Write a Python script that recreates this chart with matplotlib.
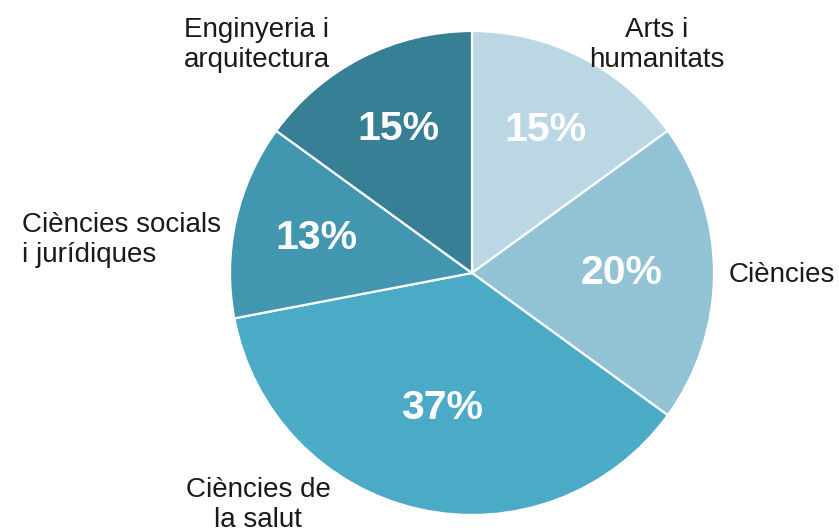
import numpy as np
import matplotlib
matplotlib.use("Agg")
import matplotlib.pyplot as plt

plt.rcParams['font.family'] = ['Liberation Sans', 'DejaVu Sans']

# share of students by field
fields = ["Arts i\nhumanitats", "Ciències", "Ciències de\nla salut",
          "Ciències socials\ni jurídiques", "Enginyeria i\narquitectura"]
shares = [15, 20, 37, 13, 15]
colors = ["#BBD7E3", "#92C3D4", "#4BABC6", "#4296AF", "#377F95"]

# where each field name goes, and how it is aligned
label_pos = [(657, 487), (729, 257), (258, 27), (22, 292), (257, 487)]
label_ha = ["center", "left", "center", "left", "center"]
pct_dist = [0.665, 0.62, 0.57, 0.66, 0.67]

cx, cy, R = 472, 259, 242

fig = plt.figure(figsize=(8.39, 5.32), dpi=100)
ax = fig.add_axes([0, 0, 1, 1])

wedges, _ = ax.pie(shares, colors=colors, startangle=90, counterclock=False,
                   center=(cx, cy), radius=R,
                   wedgeprops=dict(edgecolor="white", linewidth=1.6))

for w, s, d in zip(wedges, shares, pct_dist):
    mid = np.deg2rad((w.theta1 + w.theta2) / 2)
    ax.text(cx + d * R * np.cos(mid), cy + d * R * np.sin(mid), f"{s}%",
            ha="center", va="center", color="white", fontsize=29.5,
            fontweight="bold")

for name, (x, y), ha in zip(fields, label_pos, label_ha):
    ax.text(x, y, name, ha=ha, va="center", fontsize=20, color="#1a1a1a",
            linespacing=1.22, multialignment=ha)

ax.set_xlim(0, 839)
ax.set_ylim(0, 532)
ax.set_aspect("equal")
ax.axis("off")

fig.savefig("out.png", dpi=100, facecolor="white")
